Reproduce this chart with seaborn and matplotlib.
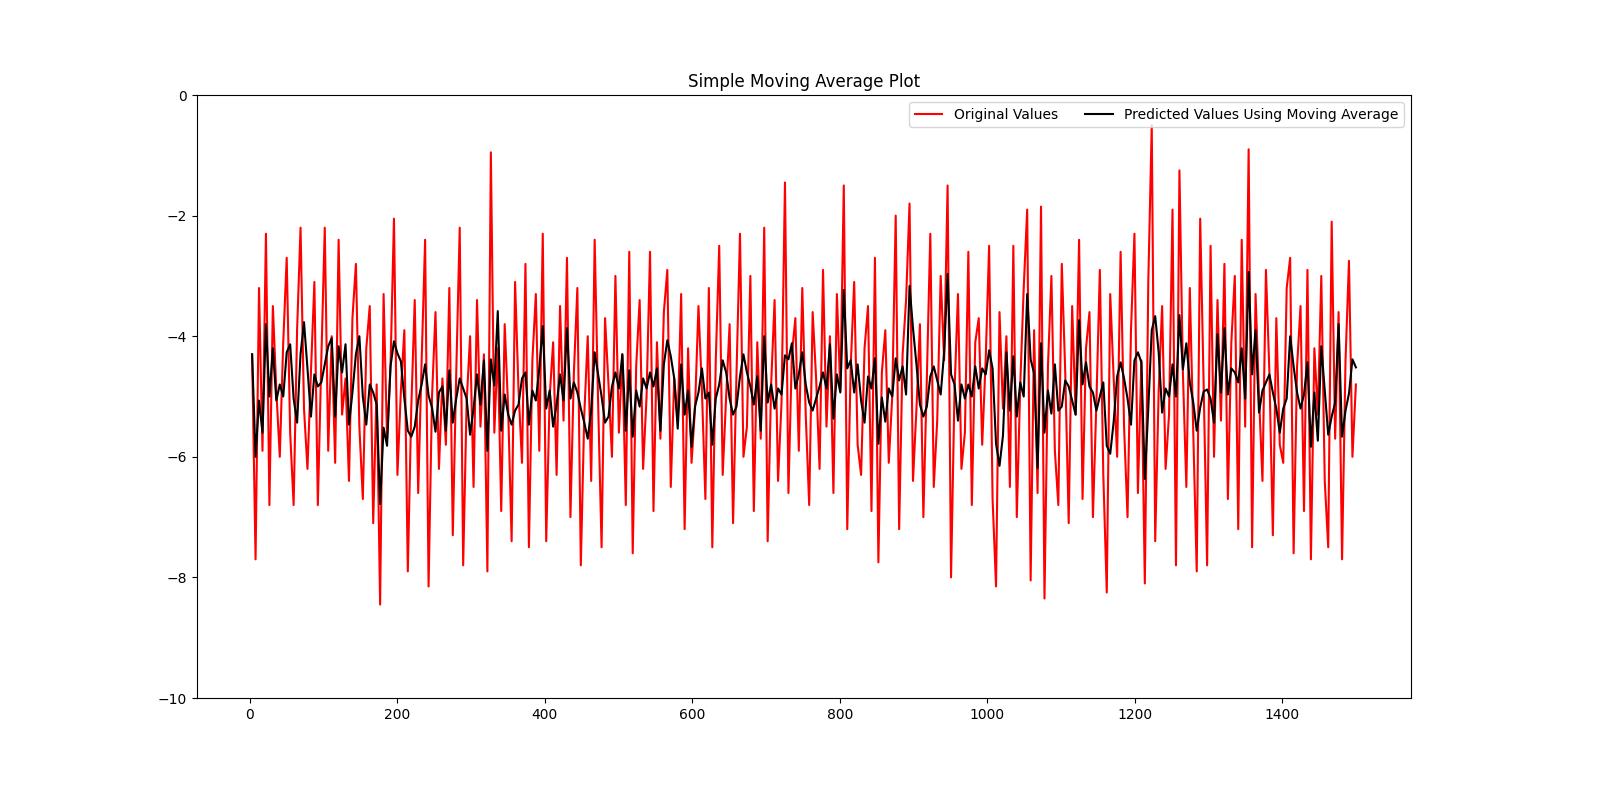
import numpy as np
import pandas as pd
import matplotlib
matplotlib.use("Agg")
from matplotlib import pyplot as plt
import seaborn as sns

original = [
    -4.3, -7.7, -3.2, -5.9, -2.3, -6.8, -3.5, -4.9, -6.0, -4.1, -2.7, -5.6, -6.8, -3.9, -2.2, -5.2, -6.2, -4.6, -3.1, -6.8,
    -4.4, -2.2, -5.9, -4.0, -6.1, -2.4, -5.3, -4.7, -6.4, -3.7, -2.8, -5.5, -6.7, -4.2, -3.5, -7.1, -4.8, -8.45, -3.3, -5.7,
    -4.5, -2.05, -6.3, -4.9, -3.9, -7.9, -5.2, -3.4, -6.6, -4.4, -2.4, -8.15, -5.0, -3.6, -6.2, -4.7, -5.8, -3.2, -7.3, -4.6,
    -2.2, -7.8, -5.1, -4.0, -6.5, -3.4, -5.5, -4.3, -7.9, -0.95, -5.6, -4.2, -6.9, -3.8, -5.2, -7.4, -3.1, -4.9, -6.1, -2.8,
    -7.5, -4.4, -3.3, -5.9, -2.3, -7.4, -5.0, -4.1, -6.3, -3.5, -5.4, -2.7, -7.0, -4.6, -3.2, -7.8, -5.3, -4.0, -6.4, -2.4,
    -5.1, -7.5, -3.7, -4.8, -6.0, -3.0, -5.6, -4.3, -6.8, -2.6, -7.6, -4.5, -3.4, -6.2, -5.0, -2.6, -6.9, -4.1, -5.7, -3.6,
    -2.9, -6.5, -4.7, -5.4, -3.3, -7.2, -4.2, -6.1, -5.2, -3.5, -4.9, -6.7, -3.2, -7.5, -4.4, -2.5, -6.3, -5.0, -3.8, -7.1,
    -4.6, -2.3, -6.0, -5.5, -3.0, -6.9, -4.1, -5.7, -2.2, -7.4, -4.8, -3.4, -6.4, -5.1, -1.45, -6.6, -4.3, -3.7, -5.9, -3.2,
    -5.3, -6.8, -3.6, -4.7, -6.2, -2.9, -5.5, -4.0, -6.6, -3.3, -4.9, -1.5, -7.2, -4.5, -3.1, -5.8, -6.3, -4.2, -3.5, -6.9,
    -2.7, -7.75, -4.6, -3.9, -6.1, -5.0, -2.0, -7.2, -4.3, -3.4, -1.8, -6.4, -5.2, -3.8, -7.0, -4.7, -2.3, -6.5, -5.4, -3.0,
    -4.4, -1.5, -8.0, -4.9, -3.3, -6.2, -5.6, -2.6, -6.8, -4.1, -3.7, -5.8, -4.4, -2.5, -6.7, -8.15, -3.6, -5.2, -4.0, -6.5,
    -2.5, -7.0, -4.8, -3.2, -1.9, -8.05, -3.9, -6.6, -1.85, -8.35, -4.5, -3.0, -5.9, -6.8, -2.8, -4.6, -7.1, -3.5, -5.3, -2.4,
    -6.7, -4.2, -3.6, -7.0, -5.1, -2.9, -6.3, -8.25, -3.3, -4.7, -6.0, -2.6, -5.5, -7.0, -3.9, -2.3, -6.6, -4.4, -8.1, -3.1,
    -0.5, -7.4, -4.9, -3.5, -6.2, -5.3, -1.9, -7.8, -1.25, -4.6, -6.5, -3.2, -5.6, -7.9, -2.05, -4.8, -7.8, -2.5, -6.0, -3.4,
    -5.4, -2.8, -6.7, -4.1, -3.0, -7.2, -2.4, -5.5, -0.9, -7.5, -3.3, -5.0, -6.4, -2.9, -4.6, -7.3, -3.7, -5.8, -6.1, -3.2,
    -2.7, -7.6, -4.5, -3.5, -6.9, -2.9, -7.7, -4.2, -5.3, -3.0, -6.4, -7.5, -2.1, -5.7, -3.6, -7.7, -4.4, -2.75, -6.0, -4.8,
]
x_values = np.linspace(3, 1500, len(original))
window = 3

df = pd.DataFrame({"x": x_values, "original": original})
df["predicted"] = df["original"].rolling(window, min_periods=1).mean()

fig = plt.figure(figsize=(16, 8), dpi=100)
ax = fig.add_axes([0.123, 0.1275, 0.759, 0.7537])
sns.lineplot(data=df, x="x", y="original", color="red", label="Original Values", ax=ax, linewidth=1.5)
sns.lineplot(data=df, x="x", y="predicted", color="black", label="Predicted Values Using Moving Average", ax=ax, linewidth=1.5)
ax.set_ylim(-10, 0)
ax.set_xlim(-72, 1575)
ax.set_xlabel("")
ax.set_ylabel("")
ax.set_title("Simple Moving Average Plot", fontsize=12)
ax.legend(loc="upper right", ncol=2)
fig.savefig("out.png", dpi=100)
